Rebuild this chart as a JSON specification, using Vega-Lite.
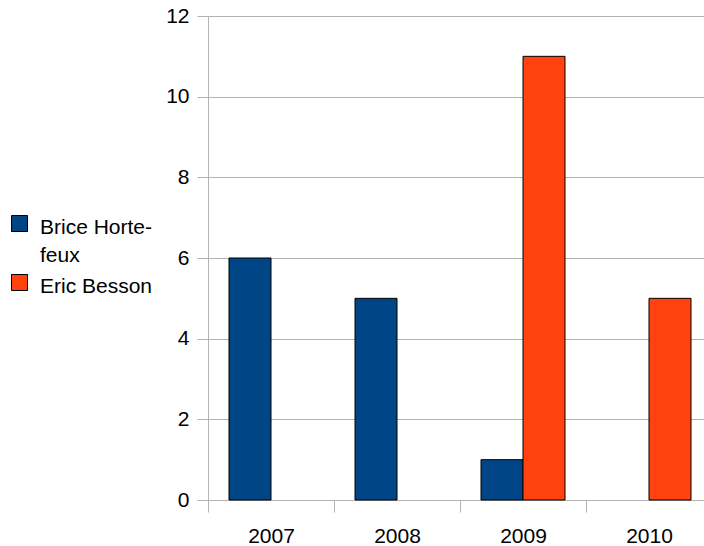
{
  "$schema": "https://vega.github.io/schema/vega-lite/v6.json",
  "width": 496,
  "height": 484,
  "autosize": "none",
  "padding": {"left": 208, "top": 16, "right": 0, "bottom": 46},
  "background": "white",
  "config": {
    "font": "Liberation Sans",
    "view": {"stroke": null}
  },
  "data": {
    "values": [
      {"year": "2007", "person": "Brice Hortefeux", "count": 6},
      {"year": "2008", "person": "Brice Hortefeux", "count": 5},
      {"year": "2009", "person": "Brice Hortefeux", "count": 1},
      {"year": "2009", "person": "Eric Besson", "count": 11},
      {"year": "2010", "person": "Eric Besson", "count": 5}
    ]
  },
  "mark": {"type": "bar", "stroke": "#000000", "strokeWidth": 1},
  "encoding": {
    "x": {
      "field": "year",
      "type": "nominal",
      "scale": {"range": [0, 504], "paddingInner": 0, "paddingOuter": 0},
      "axis": {
        "title": null,
        "labelAngle": 0,
        "labelFontSize": 21,
        "labelColor": "#000000",
        "labelPadding": 13,
        "tickBand": "extent",
        "tickSize": 12,
        "tickColor": "#b3b3b3",
        "domainColor": "#b3b3b3",
        "grid": false
      }
    },
    "xOffset": {
      "field": "person",
      "type": "nominal",
      "scale": {"domain": ["Brice Hortefeux", "Eric Besson"], "paddingInner": 0, "paddingOuter": 0.5}
    },
    "y": {
      "field": "count",
      "type": "quantitative",
      "scale": {"domain": [0, 12], "nice": false},
      "axis": {
        "title": null,
        "values": [0, 2, 4, 6, 8, 10, 12],
        "labelFontSize": 21,
        "labelColor": "#000000",
        "labelPadding": 8,
        "tickSize": 11,
        "tickColor": "#b3b3b3",
        "domainColor": "#b3b3b3",
        "gridColor": "#b3b3b3",
        "grid": true
      }
    },
    "color": {
      "field": "person",
      "type": "nominal",
      "scale": {"domain": ["Brice Hortefeux", "Eric Besson"], "range": ["#004586", "#ff420e"]},
      "legend": {
        "title": null,
        "orient": "none",
        "padding": 0,
        "legendX": -199,
        "legendY": 197,
        "symbolType": "square",
        "symbolSize": 256,
        "symbolStrokeColor": "#000000",
        "symbolStrokeWidth": 1,
        "labelFontSize": 21,
        "labelColor": "#000000",
        "labelOffset": 10,
        "labelLimit": 200,
        "labelExpr": "datum.label == 'Brice Hortefeux' ? ['Brice Horte-', 'feux'] : datum.label",
        "rowPadding": 6,
        "encode": {"labels": {"update": {"lineHeight": {"value": 28}, "dy": {"value": 4}}}}
      }
    }
  }
}
